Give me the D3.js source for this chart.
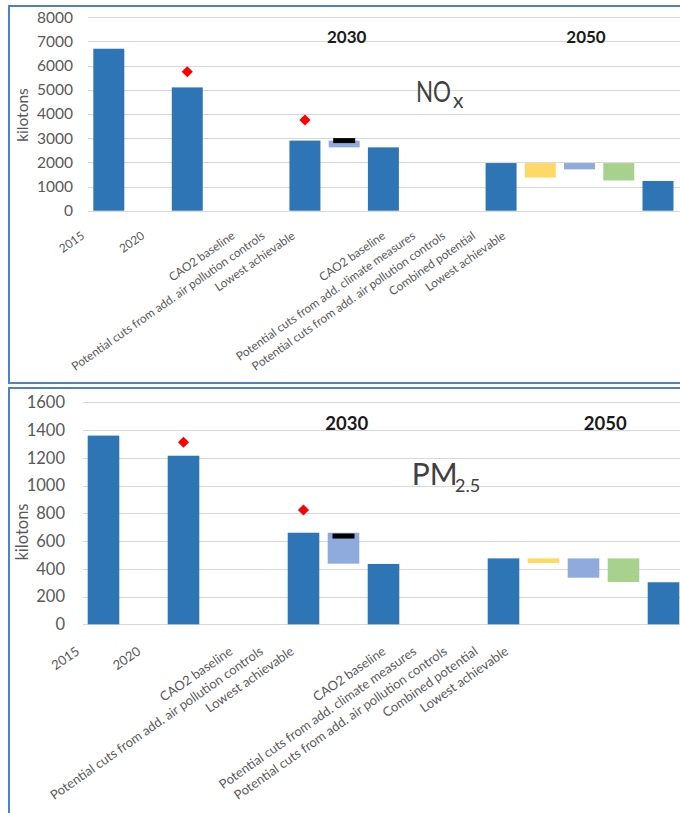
<!DOCTYPE html>
<html>
<head>
<meta charset="utf-8">
<script src="https://cdn.jsdelivr.net/npm/d3@7"></script>
<style>
  html, body { margin: 0; padding: 0; background: #fff; }
  svg { display: block; font-family: Lato, "Open Sans", sans-serif; }
</style>
</head>
<body>
<svg id="chart" width="680" height="813"></svg>
<script>
// Category slots along the x axis (blank slots separate the periods)
const categories = [
  "2015", "", "2020", "", "",
  "CAO2 baseline", "Potential cuts from add. air pollution controls", "Lowest achievable",
  "", "",
  "CAO2 baseline", "Potential cuts from add. climate measures",
  "Potential cuts from add. air pollution controls", "Combined potential", "Lowest achievable"
];
// Kind of bar in each slot: emission level or a floating reduction range
const barKinds = [
  "level", null, "level", null, null,
  "level", "airCut", "level", null, null,
  "level", "climateCut", "airCut", "combined", "level"
];
const periodLabels = ["2030", "2050"];

// NOx, kilotons: each bar spans from low to high
const noxLow  = [0, null, 0, null, null, 0, 2620, 0, null, null, 0, 1370, 1710, 1250, 0];
const noxHigh = [6700, null, 5100, null, null, 2900, 2900, 2620, null, null, 1970, 1970, 1970, 1970, 1230];
const noxDiamond = [null, null, 5750, null, null, 3750, null, null, null, null, null, null, null, null, null];
const noxDash    = [null, null, null, null, null, null, 2900, null, null, null, null, null, null, null, null];
const noxTicks = [0, 1000, 2000, 3000, 4000, 5000, 6000, 7000, 8000];

// PM2.5, kilotons
const pmLow  = [0, null, 0, null, null, 0, 437, 0, null, null, 0, 442, 336, 305, 0];
const pmHigh = [1360, null, 1215, null, null, 660, 660, 435, null, null, 475, 475, 475, 475, 303];
const pmDiamond = [null, null, 1312, null, null, 824, null, null, null, null, null, null, null, null, null];
const pmDash    = [null, null, null, null, null, null, 636, null, null, null, null, null, null, null, null];
const pmTicks = [0, 200, 400, 600, 800, 1000, 1200, 1400, 1600];

const kindColor = {
  level: "#2e75b6",
  airCut: "#8faadc",
  climateCut: "#ffd966",
  combined: "#a9d18e"
};

const svg = d3.select("#chart");
const slots = d3.range(categories.length);

function drawPanel(p) {
  const g = svg.append("g");

  // panel frame
  g.append("rect")
    .attr("x", p.frame[0]).attr("y", p.frame[1])
    .attr("width", p.frame[2]).attr("height", p.frame[3])
    .attr("fill", "none").attr("stroke", "#4f81c7").attr("stroke-width", 2);

  const x = d3.scaleBand().domain(slots).range(p.xRange)
    .paddingInner(0.21).paddingOuter(0.105);
  const y = d3.scaleLinear().domain([0, d3.max(p.ticks)]).range(p.yRange);
  const labelX = d3.scalePoint().domain(slots).range(p.labelRange);

  // gridlines
  g.append("g").selectAll("line").data(p.ticks).join("line")
    .attr("x1", p.gridX[0]).attr("x2", p.gridX[1])
    .attr("y1", d => Math.round(y(d)) + 0.5).attr("y2", d => Math.round(y(d)) + 0.5)
    .attr("stroke", "#d9d9d9").attr("stroke-width", 1);

  // y axis labels
  const ya = g.append("g")
    .attr("transform", `translate(${p.tickRight},0)`)
    .call(d3.axisLeft(y).tickValues(p.ticks).tickSize(0).tickPadding(0).tickFormat(d3.format("d")));
  ya.select(".domain").remove();
  ya.selectAll("text")
    .attr("font-family", "Lato, sans-serif")
    .attr("font-size", p.tickFont).attr("fill", "#595959");

  g.append("text")
    .attr("transform", `translate(${p.yTitle[0]},${p.yTitle[1]}) rotate(-90)`)
    .attr("text-anchor", "middle")
    .attr("font-size", p.tickFont).attr("fill", "#595959")
    .text("kilotons");

  // bars
  const barIdx = slots.filter(i => p.high[i] != null);
  g.append("g").selectAll("rect").data(barIdx).join("rect")
    .attr("x", i => x(i)).attr("width", x.bandwidth())
    .attr("y", i => y(p.high[i]))
    .attr("height", i => y(p.low[i]) - y(p.high[i]))
    .attr("fill", i => kindColor[barKinds[i]]);

  // black dash markers
  const dashIdx = slots.filter(i => p.dash[i] != null);
  g.append("g").selectAll("rect").data(dashIdx).join("rect")
    .attr("x", i => x(i) + x.bandwidth() / 2 - 11).attr("width", 22)
    .attr("y", i => y(p.dash[i]) - 2.5).attr("height", 5)
    .attr("fill", "#000");

  // red diamonds
  const dIdx = slots.filter(i => p.diamond[i] != null);
  g.append("g").selectAll("path").data(dIdx).join("path")
    .attr("d", d3.symbol(d3.symbolSquare, 62))
    .attr("transform", i => `translate(${x(i) + x.bandwidth() / 2},${y(p.diamond[i])}) rotate(45)`)
    .attr("fill", "#ff0000");

  // category labels, rotated
  g.append("g").selectAll("text").data(slots.filter(i => categories[i] !== "")).join("text")
    .attr("transform", i => `translate(${labelX(i)},${p.labelTop}) rotate(-35)`)
    .attr("text-anchor", "end")
    .attr("dy", "0.78em")
    .attr("font-size", p.labelFont).attr("fill", "#595959")
    .text(i => categories[i]);

  // period headers
  g.append("g").selectAll("text").data(periodLabels).join("text")
    .attr("x", (d, k) => p.periodX[k]).attr("y", p.periodY)
    .attr("text-anchor", "middle")
    .attr("font-weight", "bold").attr("font-size", p.periodFont).attr("fill", "#1a1a1a")
    .text(d => d);

  // pollutant name with subscript
  g.append("text")
    .attr("transform", `translate(${p.name.x},${p.name.y}) scale(${p.name.sx},1)`)
    .attr("font-size", p.name.size).attr("fill", "#404040")
    .text(p.name.main);
  g.append("text")
    .attr("x", p.name.subX).attr("y", p.name.subY)
    .attr("font-size", p.name.subSize).attr("fill", "#404040")
    .text(p.name.sub);
}

drawPanel({
  frame: [9, 6, 700, 377],
  xRange: [89.2, 677.6],
  yRange: [210.7, 17.3],
  gridX: [88, 680],
  ticks: noxTicks,
  low: noxLow, high: noxHigh, diamond: noxDiamond, dash: noxDash,
  tickRight: 73, tickFont: 15.5,
  yTitle: [28, 115],
  labelRange: [80, 501], labelTop: 230, labelFont: 11.8,
  periodX: [346.7, 586], periodY: 42.5, periodFont: 17,
  name: { x: 416, y: 101.7, sx: 0.8, size: 28, main: "NO",
          sub: "x", subX: 453, subY: 108.3, subSize: 21 }
});

drawPanel({
  frame: [9, 388, 700, 440],
  xRange: [83.5, 683.5],
  yRange: [624.3, 402.3],
  gridX: [83, 680],
  ticks: pmTicks,
  low: pmLow, high: pmHigh, diamond: pmDiamond, dash: pmDash,
  tickRight: 65, tickFont: 16.5,
  yTitle: [28, 532],
  labelRange: [74.5, 503.5], labelTop: 645, labelFont: 13,
  periodX: [346.7, 605.3], periodY: 430, periodFont: 18.5,
  name: { x: 411.7, y: 485, sx: 1, size: 30, main: "PM",
          sub: "2.5", subX: 455, subY: 492.3, subSize: 18 }
});
</script>
</body>
</html>
